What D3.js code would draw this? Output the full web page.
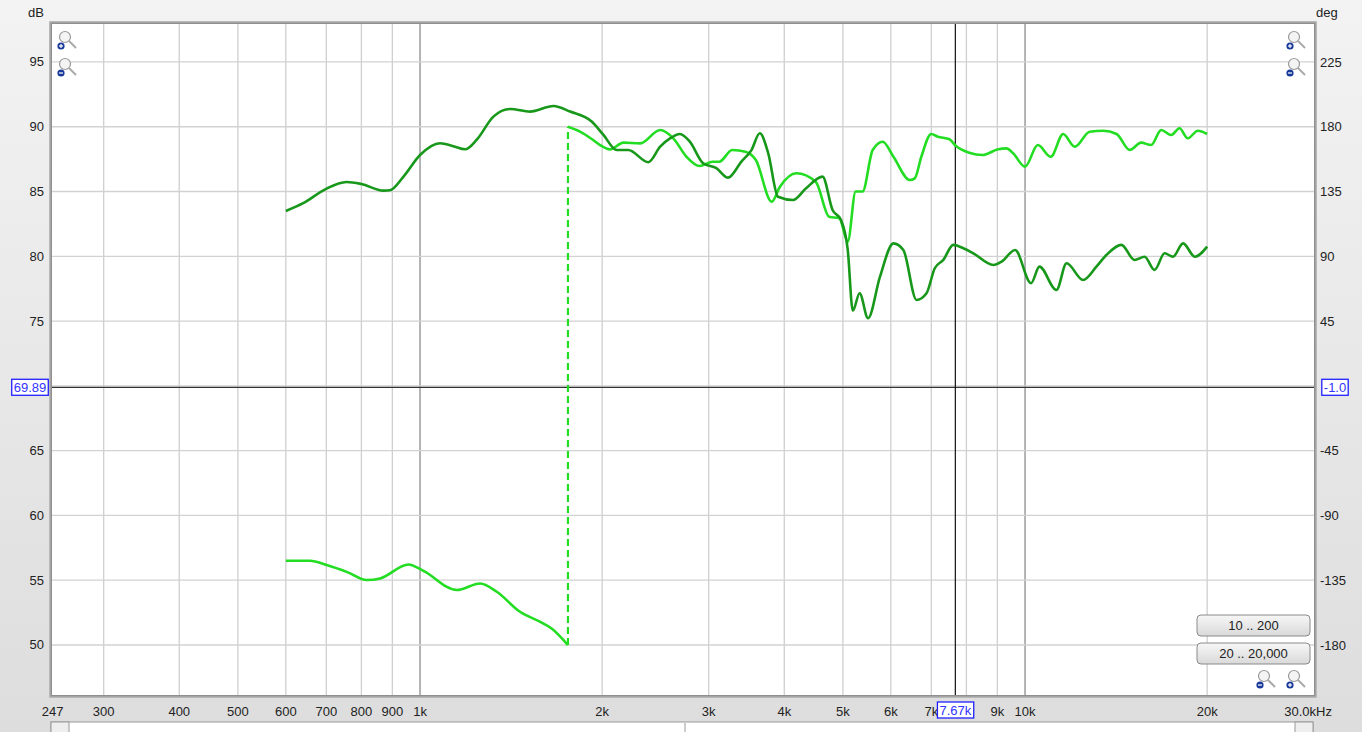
<!DOCTYPE html>
<html><head><meta charset="utf-8">
<script src="https://cdn.jsdelivr.net/npm/d3@7"></script>
<style>
html,body{margin:0;padding:0;background:#e4e4e4;}
svg{display:block;font-family:"Liberation Sans",Arial,sans-serif;}
</style></head>
<body>
<svg id="c" width="1362" height="732"></svg>
<script>
// ---- data ----
const splFreq = [600,641,697,756,800,870,892,939,1000,1079,1135,1187,1241,1322,1409,1520,1662,1770,1922,2010,2114,2209,2385,2494,2589,2689,2792,2937,3089,3229,3398,3530,3644,3763,3906,4134,4346,4627,4807,4964,5093,5192,5328,5502,5758,6060,6293,6618,6873,7093,7327,7610,7906,8213,8862,9148,9627,10233,10563,11270,11712,12470,13120,13630,14430,15170,15760,16370,17010,17560,18250,19080,20000];
const splDb   = [83.5,84.1,85.17,85.74,85.58,85.07,85.1,86.15,87.82,88.73,88.5,88.26,89.0,90.78,91.37,91.17,91.6,91.17,90.4,89.37,88.2,88.2,87.26,88.46,89.1,89.44,88.85,87.18,86.8,86.07,87.31,88.2,89.5,87.95,84.6,84.35,85.25,86.15,83.58,82.8,80.5,75.8,77.15,75.22,78.43,81.0,80.49,76.63,77.15,79.08,79.72,80.88,80.62,80.23,79.33,79.59,80.49,77.92,79.2,77.4,79.46,78.17,79.2,80.1,80.88,79.72,79.97,78.95,80.23,79.97,81.0,79.97,80.75];

const phaseFreq = [600,658,701,760,816,859,957,1013,1150,1257,1339,1463,1578,1650,1756,1756,1838,1922,1984,2061,2169,2312,2494,2622,2757,2897,3046,3122,3282,3451,3590,3813,3935,4189,4509,4745,4932,5093,5248,5388,5600,5818,6060,6451,6573,6739,6998,7176,7501,7690,8087,8508,9032,9322,9556,10000,10498,11030,11560,12080,12790,13460,14170,14900,15560,16160,16790,17440,18000,18580,19300,20000];
const phaseDeg  = [-121.4,-121.4,-124.4,-129.5,-134.8,-133.7,-124.0,-128.5,-141.8,-137.2,-143,-156.9,-163.8,-168.5,-180,180,176.6,171.5,167.3,164.3,169,168.5,177.8,172,159.2,152.8,155.7,155.7,163.9,162.7,156.9,128,138.4,147.7,141.8,117.5,116.4,100.2,135,135,163.9,169.6,159.2,143,144.2,159.2,175,173.1,171.3,166.6,162,160.4,164.4,165,161.6,152.3,167.3,159.2,175,166.2,176.6,177.3,175,163.9,169,167.3,177.8,174.3,179,172,177.3,175];

const xTicks = [300,400,500,600,700,800,900,1000,2000,3000,4000,5000,6000,7000,8000,9000,10000,20000];
const xTickLabels = ["300","400","500","600","700","800","900","1k","2k","3k","4k","5k","6k","7k","8k","9k","10k","20k"];
const dbTicks = [50,55,60,65,70,75,80,85,90,95];
const degTicks = [-180,-135,-90,-45,0,45,90,135,180,225];
const degTickLabels = ["-180","-135","-90","-45","","45","90","135","180","225"];
const dbTickLabels = ["50","55","60","65","","75","80","85","90","95"];
const cursorFreq = 7670, cursorDb = 69.89;
const cursorLabels = {freq:"7.67k", db:"69.89", deg:"-1.0"};
const edgeLabels = {left:"247", right:"30.0kHz"};
const buttonLabels = ["10 .. 200","20 .. 20,000"];

// ---- layout ----
const W=1362,H=732;
const P={l:52,r:1314,t:24,b:695};
const svg=d3.select("#c");
const x=d3.scaleLog().domain([247,30000]).range([52.6,1313.7]);
const y=d3.scaleLinear().domain([46.14,97.93]).range([P.b,P.t]);
const yd=d3.scaleLinear().domain([-214.7,251.4]).range([P.b,P.t]);

const defs=svg.append("defs");
const bg=defs.append("linearGradient").attr("id","bg").attr("x1",0).attr("x2",0).attr("y1",0).attr("y2",1);
bg.append("stop").attr("offset","0%").attr("stop-color","#f3f3f3");
bg.append("stop").attr("offset","100%").attr("stop-color","#dddddd");
const bt=defs.append("linearGradient").attr("id","btn").attr("x1",0).attr("x2",0).attr("y1",0).attr("y2",1);
bt.append("stop").attr("offset","0%").attr("stop-color","#f7f7f7");
bt.append("stop").attr("offset","100%").attr("stop-color","#d9d9d9");
defs.append("clipPath").attr("id","clip").append("rect").attr("x",P.l).attr("y",P.t).attr("width",P.r-P.l).attr("height",P.b-P.t);

svg.append("rect").attr("width",W).attr("height",H).attr("fill","url(#bg)");
// shadow + plot frame
svg.append("rect").attr("x",P.l-3).attr("y",P.t-3).attr("width",P.r-P.l+6).attr("height",P.b-P.t+6).attr("fill","#b8b8b8").attr("rx",1);
svg.append("rect").attr("x",P.l-1.5).attr("y",P.t-1.5).attr("width",P.r-P.l+3).attr("height",P.b-P.t+3).attr("fill","#8f8f8f");
svg.append("rect").attr("x",P.l).attr("y",P.t).attr("width",P.r-P.l).attr("height",P.b-P.t).attr("fill","#fff");

const g=svg.append("g").attr("clip-path","url(#clip)");
// grid
g.selectAll(".vg").data(xTicks).join("line")
 .attr("x1",d=>x(d)).attr("x2",d=>x(d)).attr("y1",P.t).attr("y2",P.b)
 .attr("stroke",d=>(d===1000||d===10000)?"#8c8c8c":"#cfcfcf").attr("stroke-width",1.3);
g.selectAll(".hg").data(dbTicks).join("line")
 .attr("x1",P.l).attr("x2",P.r).attr("y1",d=>y(d)).attr("y2",d=>y(d))
 .attr("stroke","#d2d2d2").attr("stroke-width",1.3);

// cursor
g.append("line").attr("x1",P.l).attr("x2",P.r).attr("y1",y(cursorDb)).attr("y2",y(cursorDb)).attr("stroke","#333").attr("stroke-width",1.2);
g.append("line").attr("x1",x(cursorFreq)).attr("x2",x(cursorFreq)).attr("y1",P.t).attr("y2",P.b).attr("stroke","#111").attr("stroke-width",1.2);

// phase
const ph=phaseFreq.map((f,i)=>[f,phaseDeg[i]]);
const segs=[[]];
for(let i=0;i<ph.length;i++){
  if(i>0 && Math.abs(ph[i][1]-ph[i-1][1])>=180){segs.push([]);}
  segs[segs.length-1].push(ph[i]);
}
const lineP=d3.line().x(d=>x(d[0])).y(d=>yd(d[1])).curve(d3.curveMonotoneX);
for(let s=1;s<segs.length;s++){
  const a=segs[s-1][segs[s-1].length-1], b=segs[s][0];
  g.append("line").attr("x1",x(a[0])).attr("x2",x(b[0])).attr("y1",yd(a[1])).attr("y2",yd(b[1]))
   .attr("stroke","#22dd22").attr("stroke-width",2.2).attr("stroke-dasharray","7,4");
}
segs.forEach(sg=>g.append("path").attr("d",lineP(sg)).attr("fill","none").attr("stroke","#22dd22").attr("stroke-width",2.6).attr("stroke-linejoin","round"));

// SPL
const sp=splFreq.map((f,i)=>[f,splDb[i]]);
const lineS=d3.line().x(d=>x(d[0])).y(d=>y(d[1])).curve(d3.curveMonotoneX);
g.append("path").attr("d",lineS(sp)).attr("fill","none").attr("stroke","#18981a").attr("stroke-width",2.6).attr("stroke-linejoin","round");

// tick labels
const tf={"font-size":"13px","fill":"#222"};
function txt(sel,o){Object.entries(tf).forEach(([k,v])=>sel.attr(k,v));return sel;}
txt(svg.selectAll(".yl").data(dbTicks.map((d,i)=>[d,dbTickLabels[i]])).join("text"))
 .attr("x",44).attr("y",d=>y(d[0])+4.5).attr("text-anchor","end").text(d=>d[1]);
txt(svg.selectAll(".yr").data(degTicks.map((d,i)=>[d,degTickLabels[i]])).join("text"))
 .attr("x",1320).attr("y",d=>yd(d[0])+4.5).attr("text-anchor","start").text(d=>d[1]);
txt(svg.append("text")).attr("x",44).attr("y",17).attr("text-anchor","end").text("dB");
txt(svg.append("text")).attr("x",1316).attr("y",17).text("deg");
const hideX=new Set([8000]);
txt(svg.selectAll(".xl").data(xTicks.map((d,i)=>[d,xTickLabels[i]]).filter(d=>!hideX.has(d[0]))).join("text"))
 .attr("x",d=>x(d[0])).attr("y",716).attr("text-anchor","middle").text(d=>d[1]);
txt(svg.append("text")).attr("x",x(247)).attr("y",716).attr("text-anchor","middle").text(edgeLabels.left);
txt(svg.append("text")).attr("x",1332).attr("y",716).attr("text-anchor","end").text(edgeLabels.right);

// cursor boxes
function box(cx,cy,label,anchor){
  const t=svg.append("text").attr("font-size","13px").attr("fill","#3333ff").attr("text-anchor",anchor).attr("x",cx).attr("y",cy+4.5).text(label);
  const bb=t.node().getBBox();
  svg.insert("rect",()=>t.node()).attr("x",bb.x-2).attr("y",cy-8).attr("width",bb.width+4).attr("height",16).attr("fill","#fff").attr("stroke","#2020ff").attr("stroke-width",1.3);
}
box(x(cursorFreq),710,cursorLabels.freq,"middle");
box(30,y(cursorDb),cursorLabels.db,"middle");
box(1335,y(cursorDb),cursorLabels.deg,"middle");

// buttons
buttonLabels.forEach((b,i)=>{
  const by=615+i*28;
  svg.append("rect").attr("x",1197).attr("y",by).attr("width",113).attr("height",21).attr("rx",4).attr("fill","url(#btn)").attr("stroke","#8a8a8a");
  svg.append("text").attr("x",1253.5).attr("y",by+15).attr("text-anchor","middle").attr("font-size","13px").attr("fill","#222").text(b);
});

// zoom icons
function zicon(lx,ly,plus){
  const gi=svg.append("g");
  gi.append("line").attr("x1",lx+4).attr("y1",ly+4).attr("x2",lx+11).attr("y2",ly+11).attr("stroke","#aaa").attr("stroke-width",2);
  gi.append("circle").attr("cx",lx).attr("cy",ly).attr("r",5.5).attr("fill","#f4f4f4").attr("stroke","#9a9a9a").attr("stroke-width",1.2);
  gi.append("circle").attr("cx",lx-4).attr("cy",ly+9).attr("r",3.6).attr("fill","#1a3a9a");
  gi.append("line").attr("x1",lx-6).attr("x2",lx-2).attr("y1",ly+9).attr("y2",ly+9).attr("stroke","#fff").attr("stroke-width",1.2);
  if(plus) gi.append("line").attr("x1",lx-4).attr("x2",lx-4).attr("y1",ly+7).attr("y2",ly+11).attr("stroke","#fff").attr("stroke-width",1.2);
}
zicon(65,37,true);zicon(65,64,false);
zicon(1294,37,true);zicon(1294,64,false);
zicon(1264,676,false);zicon(1294,676,true);

// scrollbar
svg.append("rect").attr("x",51).attr("y",722).attr("width",1262).attr("height",14).attr("fill","#fff").attr("stroke","#9a9a9a");
svg.append("rect").attr("x",51).attr("y",722).attr("width",18).attr("height",14).attr("fill","#eee").attr("stroke","#9a9a9a");
svg.append("rect").attr("x",1295).attr("y",722).attr("width",18).attr("height",14).attr("fill","#eee").attr("stroke","#9a9a9a");
svg.append("line").attr("x1",685).attr("x2",685).attr("y1",723).attr("y2",732).attr("stroke","#9a9a9a");
</script>
</body></html>
